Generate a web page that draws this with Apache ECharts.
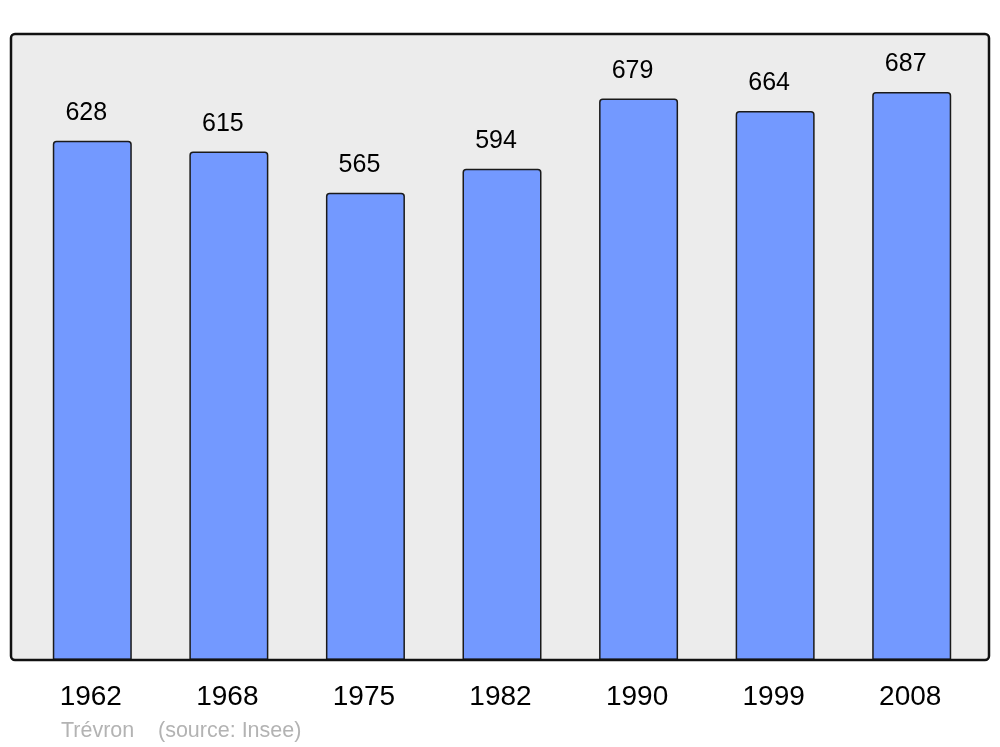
<!DOCTYPE html>
<html>
<head>
<meta charset="utf-8">
<script src="https://cdn.jsdelivr.net/npm/echarts@6/dist/echarts.min.js"></script>
<style>
  html, body { margin: 0; padding: 0; background: #fff; }
  #chart { width: 1000px; height: 747px; }
</style>
</head>
<body>
<div id="chart"></div>
<script>
// population by census year
const years = ['1962', '1968', '1975', '1982', '1990', '1999', '2008']
const population = [628, 615, 565, 594, 679, 664, 687]
const sourceLabel = 'Trévron'
const sourceNote = '(source: Insee)'

const chart = echarts.init(document.getElementById('chart'))
const option = {
  animation: false,
  backgroundColor: '#fff',
  textStyle: { fontFamily: 'Liberation Sans, Arial, sans-serif' },
  grid: {
    left: 24,
    right: 20,
    top: 34,
    bottom: 87
  },
  xAxis: {
    type: 'category',
    data: years,
    axisLine: { show: false },
    axisTick: { show: false },
    axisLabel: {
      color: '#000',
      fontSize: 28,
      margin: 23,
      padding: [0, 3, 0, 0]
    }
  },
  yAxis: {
    type: 'value',
    min: 0,
    max: 757,
    show: false,
    splitLine: { show: false }
  },
  graphic: [
    {
      type: 'rect',
      z: -10,
      silent: true,
      shape: { x: 11, y: 34, width: 978, height: 626, r: 4 },
      style: { fill: '#ececec', stroke: null }
    },
    {
      type: 'rect',
      z: 100,
      silent: true,
      shape: { x: 11, y: 34, width: 978, height: 626, r: 4 },
      style: { fill: null, stroke: '#111', lineWidth: 2.5 }
    },
    {
      type: 'text',
      left: 61,
      top: 720,
      style: { text: sourceLabel, fill: '#b3b3b3', font: '21.5px Liberation Sans, Arial, sans-serif' }
    },
    {
      type: 'text',
      left: 158,
      top: 720,
      style: { text: sourceNote, fill: '#b3b3b3', font: '21.5px Liberation Sans, Arial, sans-serif' }
    }
  ],
  series: [
    {
      type: 'bar',
      data: population,
      barWidth: 79,
      itemStyle: {
        color: '#7399ff',
        borderColor: '#1a1a1a',
        borderWidth: 1.5,
        borderRadius: [3, 3, 0, 0]
      },
      label: {
        show: true,
        position: 'top',
        distance: 15,
        offset: [-6, 0],
        color: '#000',
        fontSize: 25
      }
    }
  ]
}
chart.setOption(option)
window.addEventListener('resize', () => chart.resize())
</script>
</body>
</html>
